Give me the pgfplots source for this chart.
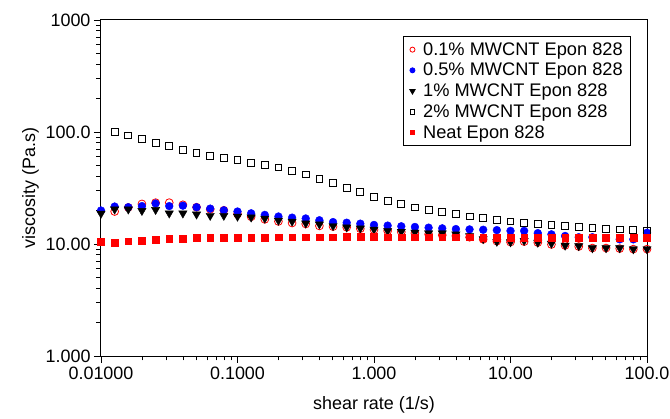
\documentclass[border=0pt]{standalone}
\usepackage{fontspec}
\setmainfont{Liberation Sans}
\usepackage{pgfplots}
\usepackage{pgfplotstable}
\pgfplotsset{compat=1.18}

% shear rate, then viscosity of each sample (nan = no point)
\pgfplotstableread{
x       c01   c05   c1    c2    neat
0.01    nan   19.9  18.7  nan   10.4
0.01259 19.5  21.6  20.4  100   10.3
0.01585 21.2  21.3  20.4  93.0  10.6
0.01995 22.8  21.8  19.8  86.4  10.7
0.02512 23.4  23.0  20.2  79.6  10.9
0.03162 23.4  21.8  18.8  74.8  11.1
0.03981 22.4  22.0  18.8  68.9  11.1
0.05012 21.3  21.3  18.4  65.2  11.3
0.06310 20.4  20.7  17.9  61.3  11.3
0.07943 20.0  20.0  17.9  58.4  11.4
0.1     18.5  19.5  17.6  56.1  11.4
0.1259  17.5  18.8  17.3  53.1  11.4
0.1585  16.6  18.2  16.9  50.9  11.4
0.1995  15.9  17.6  16.2  48.2  11.5
0.2512  15.4  17.2  15.9  45.0  11.5
0.3162  15.1  16.9  15.3  41.7  11.5
0.3981  14.5  16.3  15.0  38.2  11.5
0.5012  14.3  15.7  14.5  34.9  11.5
0.6310  14.1  15.5  14.1  31.9  11.6
0.7943  13.7  15.2  13.8  29.0  11.6
1       13.4  14.8  13.5  26.4  11.6
1.259   13.1  14.6  13.1  24.3  11.5
1.585   12.8  14.4  12.9  22.7  11.5
1.995   12.5  14.2  12.7  21.2  11.5
2.512   12.2  14.0  12.5  20.2  11.5
3.162   12.0  13.8  12.5  19.2  11.5
3.981   11.8  13.6  12.2  18.5  11.5
5.012   11.5  13.5  11.8  17.6  11.5
6.310   11.0  13.4  11.1  17.0  11.4
7.943   10.6  13.3  10.5  16.4  11.4
10      10.4  13.1  10.4  15.9  11.4
12.59   10.5  13.1  10.7  15.3  11.4
15.85   10.3  12.5  10.3  15.1  11.4
19.95   9.9   12.2  10.1  14.8  11.4
25.12   9.7   11.8  9.7   14.5  11.4
31.62   9.5   11.5  9.6   14.2  11.4
39.81   9.2   11.5  9.2   13.9  11.3
50.12   9.2   11.3  9.2   13.6  11.3
63.10   9.1   11.0  9.2   13.5  11.3
79.43   9.0   11.0  9.0   13.3  11.3
100     9.0   12.6  9.0   13.0  11.3
}\visc

\begin{document}
\begin{tikzpicture}
\begin{axis}[
    name=ax,
    xmode=log, ymode=log,
    scale only axis,
    width=546bp, height=336bp,
    xmin=0.01, xmax=100,
    ymin=1, ymax=1000,
    xtick={0.01,0.1,1,10,100},
    xticklabels={0.01000,0.1000,1.000,10.00,100.0},
    ytick={1,10,100,1000},
    yticklabels={1.000,10.00,100.0,1000},
    tick pos=left,
    tick align=outside,
    major tick length=7bp,
    minor tick length=4.5bp,
    every tick/.style={black, line width=0.9bp},
    axis line style={line width=1bp},
    font=\fontsize{18}{21}\selectfont,
    xlabel={shear rate (1/s)},
    xlabel style={yshift=-10bp},
    ylabel={viscosity (Pa.s)},
    legend cell align=left,
    legend style={at={(0.971,0.952)}, anchor=north east,
        draw=black, line width=0.8bp, row sep=2.5bp,
        inner xsep=6bp, inner ysep=4bp,
        /tikz/every odd column/.append style={column sep=6bp},
        font=\fontsize{18.3}{21}\selectfont},
    legend image code/.code={
        \draw[#1, every mark/.append style={scale=0.65}]
        plot coordinates {(0.2cm,0cm)};},
  ]
  \addplot[only marks, mark=o, mark size=3.9bp, red, line width=0.8bp]
    table[x=x, y=c01] {\visc};
  \addplot[only marks, mark=*, mark size=3.9bp, blue]
    table[x=x, y=c05] {\visc};
  \addplot[only marks, mark=triangle*, mark size=4.8bp, black,
    mark options={rotate=180}]
    table[x=x, y=c1] {\visc};
  \addplot[only marks, mark=square, mark size=3.4bp, black, line width=0.9bp]
    table[x=x, y=c2] {\visc};
  \addplot[only marks, mark=square*, mark size=3.4bp, red]
    table[x=x, y=neat] {\visc};
  \legend{0.1\% MWCNT Epon 828, 0.5\% MWCNT Epon 828, 1\% MWCNT Epon 828,
    2\% MWCNT Epon 828, Neat Epon 828}
\end{axis}
\pgfresetboundingbox
\path ([shift={(-101bp,-62bp)}]ax.south west) rectangle ([shift={(23bp,20bp)}]ax.north east);
\end{tikzpicture}
\end{document}
